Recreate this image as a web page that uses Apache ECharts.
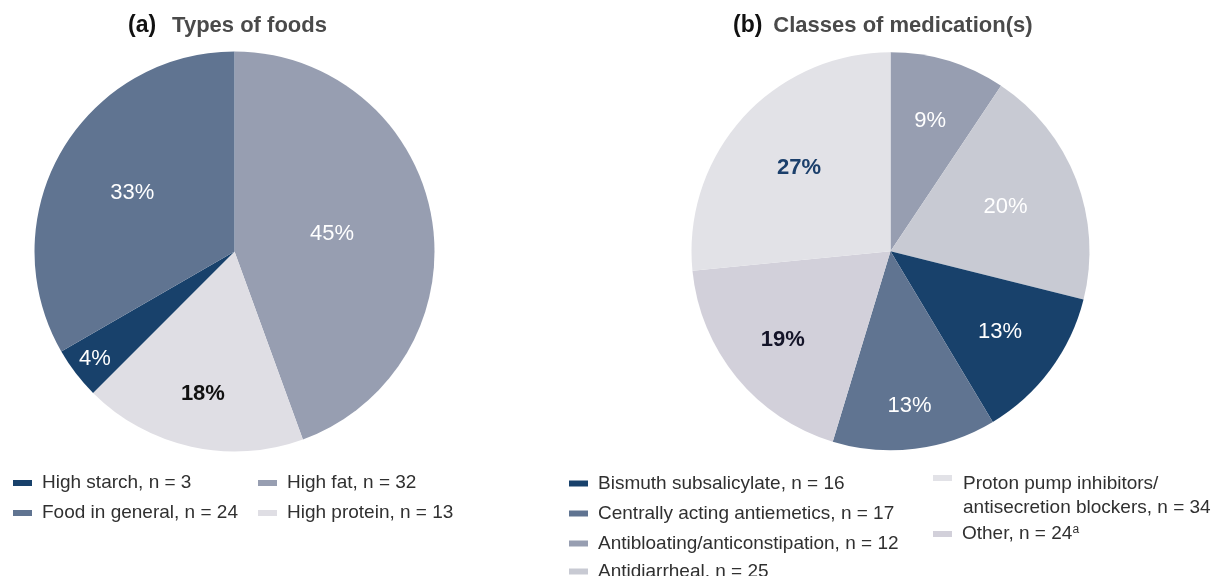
<!DOCTYPE html>
<html>
<head>
<meta charset="utf-8">
<script src="https://cdn.jsdelivr.net/npm/echarts@6/dist/echarts.min.js"></script>
<style>
html,body{margin:0;padding:0;background:#fff;}
#chart{width:1220px;height:576px;}
</style>
</head>
<body>
<div id="chart"></div>
<script>
// ---------- data ----------
const foodNames = ['High fat', 'High protein', 'High starch', 'Food in general'];
const foodN = [32, 13, 3, 24];
const foodPct = ['45%', '18%', '4%', '33%'];

const medNames = ['Antibloating/anticonstipation', 'Antidiarrheal', 'Bismuth subsalicylate',
  'Centrally acting antiemetics', 'Other', 'Proton pump inhibitors/antisecretion blockers'];
const medN = [12, 25, 16, 17, 24, 34];
const medPct = ['9%', '20%', '13%', '13%', '19%', '27%'];

const titleA = ['(a)', 'Types of foods'];
const titleB = ['(b)', 'Classes of medication(s)'];

// ---------- styles ----------
const foodColors = ['#979eb1', '#dfdee4', '#18416b', '#607491'];
const foodLabelColors = ['#ffffff', '#111111', '#ffffff', '#ffffff'];
const foodLabelWeight = ['normal', 'bold', 'normal', 'normal'];
const foodLabelRad = [0.495, 0.73, 0.88, 0.59];

const medColors = ['#979eb1', '#c8cad3', '#18416b', '#607491', '#d2d0da', '#e2e2e7'];
const medLabelColors = ['#ffffff', '#ffffff', '#ffffff', '#ffffff', '#141428', '#1b3f6b'];
const medLabelWeight = ['normal', 'normal', 'normal', 'normal', 'bold', 'bold'];
const medLabelRad = [0.685, 0.62, 0.685, 0.785, 0.70, 0.62];

const geo = [
  { cx: 234.5, cy: 251.5, r: 200 },
  { cx: 890.5, cy: 251.2, r: 199 }
];

function midAngles(vals) {
  const tot = vals.reduce((a, b) => a + b, 0);
  let acc = 0;
  return vals.map(v => { const m = (acc + v / 2) / tot * 2 * Math.PI; acc += v; return m; });
}
const foodMid = midAngles(foodN);
const medMid = midAngles(medN);

function mkData(names, vals, colors, lc, lw, pct) {
  return names.map((n, i) => ({
    name: n, value: vals[i],
    itemStyle: { color: colors[i] },
    label: { color: lc[i], fontWeight: lw[i], formatter: pct[i] }
  }));
}

function mkLayout(g, mids, rad) {
  return function (p) {
    const a = mids[p.dataIndex];
    const rr = rad[p.dataIndex] * g.r;
    return {
      x: g.cx + rr * Math.sin(a),
      y: g.cy - rr * Math.cos(a),
      align: 'center',
      verticalAlign: 'middle'
    };
  };
}

const nMap = {};
foodNames.forEach((n, i) => nMap[n] = foodN[i]);
medNames.forEach((n, i) => nMap[n] = medN[i]);

const FONT = '"Liberation Sans", Arial, sans-serif';
const TXT = '#303030';
const legendText = { fontSize: 19, color: TXT, fontFamily: FONT,
  rich: {
    t: { fontSize: 19, color: TXT, fontFamily: FONT, lineHeight: 20, padding: [0, 0, 0, 5] },
    s: { fontSize: 12, color: TXT, fontFamily: FONT, lineHeight: 20, verticalAlign: 'top' },
    sp: { fontSize: 4, lineHeight: 36 },
    p: { fontSize: 19, color: TXT, fontFamily: FONT, lineHeight: 24, padding: [0, 0, 0, 6] }
  }
};

function baseLegend(extra) {
  return Object.assign({
    orient: 'vertical', icon: 'rect', itemWidth: 19, itemHeight: 6,
    padding: 0, selectedMode: false, textStyle: legendText, height: 200,
    formatter: name => '{t|' + name + ', n = ' + nMap[name] + '}'
  }, extra);
}

const protonName = medNames[5];
const otherName = medNames[4];

const titleRich = (gap) => ({
  a: { fontSize: 23, fontWeight: 'bold', color: '#111111', fontFamily: FONT, lineHeight: 28 },
  b: { fontSize: 22, fontWeight: 'bold', color: '#4a4a4a', fontFamily: FONT, lineHeight: 28, padding: [0, 0, 0, gap] }
});

const option = {
  backgroundColor: '#ffffff',
  animation: false,
  title: [
    { text: '{a|' + titleA[0] + '}{b|' + titleA[1] + '}', left: 128, top: 12, padding: 0,
      textStyle: { rich: titleRich(16) } },
    { text: '{a|' + titleB[0] + '}{b|' + titleB[1] + '}', left: 733, top: 12, padding: 0,
      textStyle: { rich: titleRich(11) } }
  ],
  legend: [
    baseLegend({ left: 13, top: 473.5, itemGap: 11, data: ['High starch', 'Food in general'] }),
    baseLegend({ left: 258, top: 473.5, itemGap: 11, data: ['High fat', 'High protein'] }),
    baseLegend({ left: 569, top: 474, itemGap: 11,
      data: ['Bismuth subsalicylate', 'Centrally acting antiemetics', 'Antibloating/anticonstipation'] }),
    baseLegend({ left: 569, top: 562, itemGap: 0, data: ['Antidiarrheal'] }),
    baseLegend({ left: 933, top: 452, itemGap: 0, data: [protonName],
      formatter: name => {
        const parts = name.split('/');
        return '{sp| }\n{p|' + parts[0] + '/}\n{p|' + parts[1] + ', n = ' + nMap[name] + '}';
      } }),
    baseLegend({ left: 933, top: 524, itemGap: 0, data: [otherName],
      formatter: name => '{t|' + name + ', n = ' + nMap[name] + '}{s|a}' })
  ],
  series: [
    {
      type: 'pie', center: [geo[0].cx, geo[0].cy], radius: geo[0].r,
      startAngle: 90, clockwise: true, silent: true,
      label: { show: true, position: 'inside', fontSize: 22, fontFamily: FONT },
      labelLine: { show: false },
      labelLayout: mkLayout(geo[0], foodMid, foodLabelRad),
      itemStyle: { borderWidth: 0 },
      emphasis: { disabled: true },
      data: mkData(foodNames, foodN, foodColors, foodLabelColors, foodLabelWeight, foodPct)
    },
    {
      type: 'pie', center: [geo[1].cx, geo[1].cy], radius: geo[1].r,
      startAngle: 90, clockwise: true, silent: true,
      label: { show: true, position: 'inside', fontSize: 22, fontFamily: FONT },
      labelLine: { show: false },
      labelLayout: mkLayout(geo[1], medMid, medLabelRad),
      itemStyle: { borderWidth: 0 },
      emphasis: { disabled: true },
      data: mkData(medNames, medN, medColors, medLabelColors, medLabelWeight, medPct)
    }
  ]
};

const chart = echarts.init(document.getElementById('chart'), null, { renderer: 'canvas' });
chart.setOption(option);
</script>
</body>
</html>
